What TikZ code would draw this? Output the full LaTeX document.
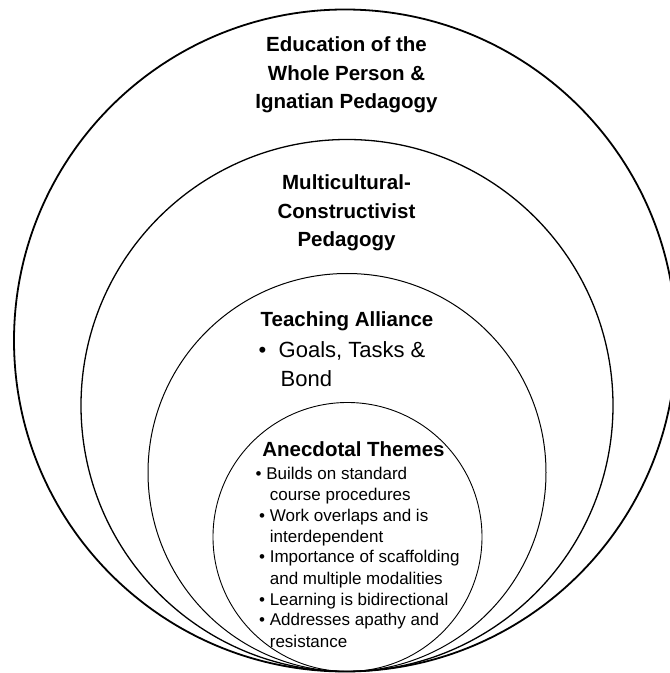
\documentclass[tikz,border=0pt]{standalone}
\usepackage{fontspec}
\setmainfont{Liberation Sans}

\begin{document}
\begin{tikzpicture}[x=1pt, y=1pt,
    heading/.style={font=\fontsize{20.5}{28.8}\selectfont\bfseries, align=center, anchor=base, inner sep=0pt},
    items/.style={font=\fontsize{17}{21}\selectfont, align=left, anchor=base west, inner sep=0pt}]
    \useasboundingbox (0,0) rectangle (670,673);
    \clip (0,0) rectangle (670,673);

    % nested rings, all touching at the bottom
    \draw[line width=1.8pt] (345,332.5) circle (331pt);
    \draw[line width=1.3pt] (347,267.5) circle (266pt);
    \draw[line width=1pt] (347,200.5) circle (199pt);
    \draw[line width=0.9pt] (347.5,136) circle (134.5pt);

    % multi-line nodes sit on the baseline of their last line
    \node[heading] (whole) at (346.5,564) {Education of the\\Whole Person \&\\Ignatian Pedagogy};
    \node[heading] (multi) at (346.5,426) {Multicultural-\\Constructivist\\Pedagogy};

    \node[heading] (alliance) at (347,346) {Teaching Alliance};
    \node[items, font=\fontsize{22}{29}\selectfont] (goals) at (258.5,286)
        {\makebox[20pt][l]{•}Goals, Tasks \&\\\hspace*{22pt}Bond};

    \node[heading] (themes) at (353.5,216) {Anecdotal Themes};
    \node[items] (list) at (259,26) {%
        \hspace*{-3.5pt}• Builds on standard\\
        \hphantom{• }course procedures\\
        • Work overlaps and is\\
        \hphantom{• }interdependent\\
        • Importance of scaffolding\\
        \hphantom{• }and multiple modalities\\
        • Learning is bidirectional\\
        • Addresses apathy and\\
        \hphantom{• }resistance};
\end{tikzpicture}
\end{document}
